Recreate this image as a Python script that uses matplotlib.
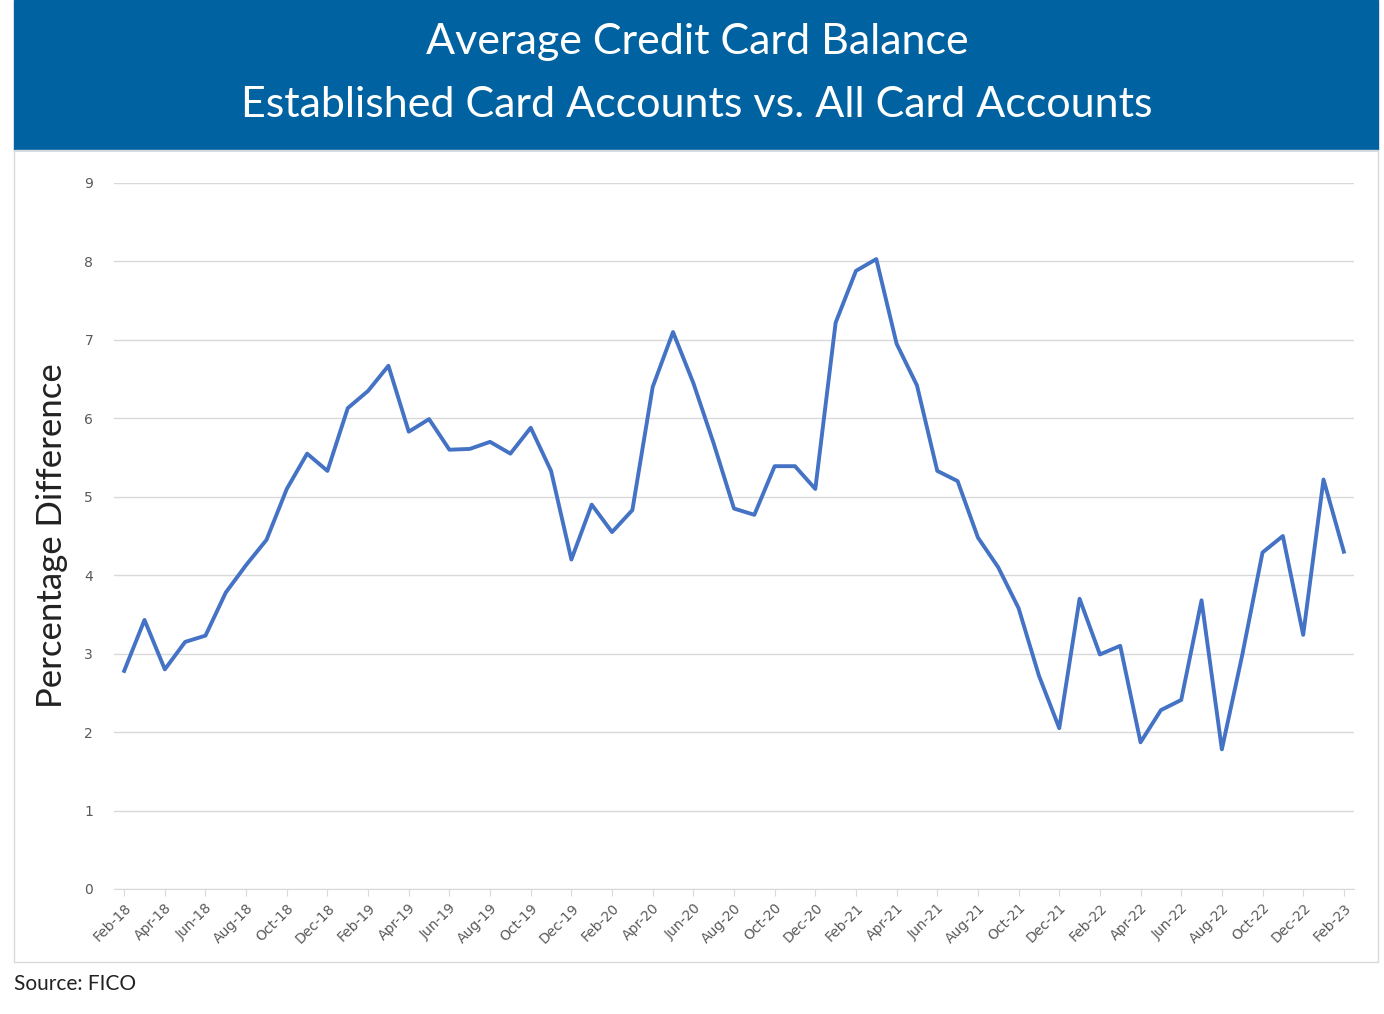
import matplotlib
matplotlib.use("Agg")
import matplotlib.pyplot as plt
from matplotlib.patches import Rectangle

months = ["Jan","Feb","Mar","Apr","May","Jun","Jul","Aug","Sep","Oct","Nov","Dec"]
labels_all = []
y, m = 18, 1
for _ in range(61):
    labels_all.append(f"{months[m]}-{y}")
    m += 1
    if m == 12:
        m, y = 0, y + 1
values = [2.78,3.43,2.8,3.15,3.23,3.78,4.13,4.45,5.1,5.55,5.33,6.13,6.35,6.67,5.83,5.99,5.6,5.61,5.7,5.55,
          5.88,5.33,4.2,4.9,4.55,4.83,6.4,7.1,6.45,5.68,4.85,4.77,5.39,5.39,5.1,7.22,7.88,8.03,6.95,6.42,
          5.33,5.2,4.48,4.1,3.58,2.72,2.05,3.7,2.99,3.1,1.87,2.28,2.41,3.68,1.78,2.98,4.29,4.5,3.24,5.22,4.3]
yticks = list(range(0, 10))

W, H = 1384, 1014
fig = plt.figure(figsize=(W/100, H/100), dpi=100)
fig.patches.append(Rectangle((14/W, 1-150/H), 1364/W, 150/H, transform=fig.transFigure, color="#0062A0", zorder=0))
fig.patches.append(Rectangle((14/W, 1-962/H), 1364/W, 812/H, transform=fig.transFigure, fill=False, edgecolor="#D9D9D9", lw=1))
fig.text(697/W, 1-42/H, "Average Credit Card Balance", color="white", fontsize=31, ha="center", va="center", family="Lato")
fig.text(697/W, 1-105/H, "Established Card Accounts vs. All Card Accounts", color="white", fontsize=31, ha="center", va="center", family="Lato")
fig.text(14/W, 1-984/H, "Source: FICO", fontsize=15, ha="left", va="center", family="Lato", color="#222222")

ax = fig.add_axes([114/W, 1-889/H, (1354-114)/W, (889-183)/H])
x = list(range(len(values)))
ax.plot(x, values, color="#4472C4", lw=2.8)
ax.set_xlim(-0.5, 60.5)
ax.set_ylim(0, 9)
ax.set_yticks(yticks)
ax.grid(axis="y", color="#D9D9D9", lw=1)
ax.set_axisbelow(True)
for s in ["top", "right", "left"]:
    ax.spines[s].set_visible(False)
ax.spines["bottom"].set_color("#D9D9D9")
ax.tick_params(axis="y", length=0, labelsize=10, labelcolor="#595959", pad=15)
ax.set_xticks(x[::2])
ax.set_xticklabels(labels_all[::2], rotation=45, ha="right", rotation_mode="anchor", fontsize=10, color="#595959")
ax.tick_params(axis="x", length=5, color="#D9D9D9")
ax.set_ylabel("Percentage Difference", fontsize=25, family="Lato", color="#222222", labelpad=12)
fig.savefig("out.png", dpi=100)
